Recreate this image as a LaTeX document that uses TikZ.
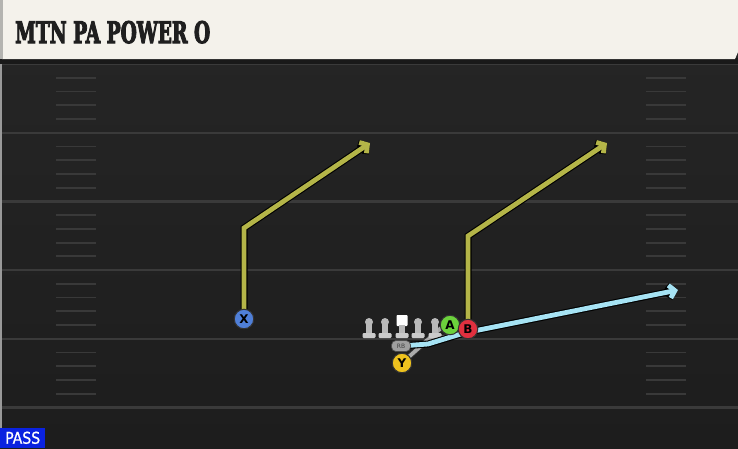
\documentclass[tikz,border=0pt]{standalone}
\usepackage{fontspec}
\setmainfont{DejaVu Serif}
\setsansfont{DejaVu Sans}
\newfontfamily\titlefont[FakeBold=4]{DejaVu Serif Condensed}
\newfontfamily\passfont[FakeBold=1]{DejaVu Sans Condensed}
\newfontfamily\letterfont{DejaVu Sans}
\usetikzlibrary{arrows.meta,calc}
\definecolor{fieldtop}{HTML}{262626}
\definecolor{fieldbot}{HTML}{1D1D1D}
\definecolor{yardline}{HTML}{3A3A3A}
\definecolor{hashline}{HTML}{393939}
\definecolor{header}{HTML}{F4F2EB}
\definecolor{headeredge}{HTML}{B4B4B0}
\definecolor{olive}{HTML}{B4B548}
\definecolor{skyblue}{HTML}{A6E3F4}
\definecolor{blockgray}{HTML}{ABABAB}
\definecolor{pblue}{HTML}{4F7FD8}
\definecolor{pgreen}{HTML}{6CD23C}
\definecolor{pred}{HTML}{E0303F}
\definecolor{pyellow}{HTML}{EEC21E}
\definecolor{lmgray}{HTML}{B9B9B9}
\definecolor{lmbase}{HTML}{CACACA}
\definecolor{passblue}{HTML}{0A22E0}
\tikzset{
  x=1pt, y=-1pt,
  yard/.style={draw=yardline, line width=2.2pt},
  hashmark/.style={draw=hashline, line width=1.8pt},
  routeout/.style={draw=black, line width=7pt, line join=miter, line cap=butt},
  routein/.style={line width=4.8pt, line join=miter, line cap=butt},
  tipout/.style={-{Straight Barb[length=5.5pt,width=13pt]}},
  player/.style={circle, draw=black!80, line width=1pt, minimum size=19.5pt, inner sep=0pt,
    font=\letterfont\bfseries\fontsize{12}{12}\selectfont, text=black},
  lineman/.style={minimum width=14pt, minimum height=24pt, inner sep=0pt,
    path picture={
      \begin{scope}[shift={(path picture bounding box.center)}]
        \fill[lmgray] (0,-6) circle (4pt);
        \fill[lmgray] (-3,-5) rectangle (3,6);
        \fill[lmbase, rounded corners=1.2pt] (-6.5,5) rectangle (6.5,10);
      \end{scope}}},
  center/.style={minimum width=14pt, minimum height=26pt, inner sep=0pt,
    path picture={
      \begin{scope}[shift={(path picture bounding box.center)}]
        \fill[white, rounded corners=0.8pt] (-5.5,-12) rectangle (5.5,-1);
        \fill[lmgray] (-3,-2) rectangle (3,7);
        \fill[lmbase, rounded corners=1.2pt] (-6.5,6) rectangle (6.5,11);
      \end{scope}}},
  rbpill/.style={draw=black!70, line width=0.7pt, fill=gray!75, rounded corners=4.5pt, minimum width=19pt,
    minimum height=11pt, inner sep=0pt, font=\sffamily\fontsize{6}{6}\selectfont, text=black!75},
}
\begin{document}
\begin{tikzpicture}
\useasboundingbox (0,0) rectangle (738,448);
% field
\shade[top color=fieldtop, bottom color=fieldbot] (0,0) rectangle (738,448);
\fill[black!40] (0,60) rectangle (2,448);
% yard lines
\foreach \i in {0,...,5} {
  \draw[yard] (2,{64+68.7*\i}) -- (738,{64+68.7*\i});
}
% hash marks
\foreach \i in {0,...,4} {
  \foreach \k in {1,...,4} {
    \draw[hashmark] (56,{64+68.7*\i+13.74*\k}) -- (96,{64+68.7*\i+13.74*\k});
    \draw[hashmark] (646,{64+68.7*\i+13.74*\k}) -- (686,{64+68.7*\i+13.74*\k});
  }
}
% header
\fill[black!90] (0,58) rectangle (738,64);
\fill[header] (2,0) -- (738,0) -- (738,52) -- (735,59) -- (2,59) -- cycle;
\fill[headeredge] (0,0) rectangle (2.5,59);
\node[anchor=base west, inner sep=0pt, text=black!88] (title) at (15,43)
  {\resizebox{195pt}{22pt}{\titlefont\bfseries MTN PA POWER O}};
% PASS label
\node[anchor=south west, fill=passblue, minimum width=45pt, minimum height=20pt, inner sep=0pt] (pass) at (0,448) {};
\node[inner sep=0pt, text=white] (passtext) at (pass.center)
  {\resizebox{35pt}{12pt}{\passfont PASS}};

% player positions
\coordinate (Xp) at (244,319);
\coordinate (Bp) at (468,329);
\coordinate (Ap) at (450,325);
\coordinate (Yp) at (402,363);
\coordinate (RBp) at (401,346);

% route coordinates
\coordinate (xc) at (244,228);
\coordinate (xe) at (370,143);
\coordinate (bc) at (468,236);
\coordinate (be) at (607,143);
\coordinate (r1) at (428,344);
\coordinate (r2) at (464,333);
\coordinate (re) at (678,290);
\coordinate (g1) at (441,328);
\coordinate (g2) at (425,341);
\coordinate (g3) at (461,334);

% blocking / gray lines
\draw[draw=black!80, line width=5.5pt] (Yp) -- (g1);
\draw[draw=black!80, line width=5.5pt] (g2) -- (g3);
\draw[draw=blockgray, line width=3.8pt] (Yp) -- (g1);
\draw[draw=blockgray, line width=3.8pt] (g2) -- (g3);

% linemen
\node[lineman] (LT) at (369,328) {};
\node[lineman] (LG) at (385,328) {};
\node[center] (C) at (402,327) {};
\node[lineman] (RG) at (418,328) {};
\node[lineman] (RT) at (435,328) {};

% X route
\draw[routeout, tipout] (Xp) -- (xc) -- (xe);
\draw[routein, draw=olive, tipout] (Xp) -- (xc) -- (xe);
% B route
\draw[routeout, tipout] (Bp) -- (bc) -- (be);
\draw[routein, draw=olive, tipout] (Bp) -- (bc) -- (be);
% RB route
\draw[routeout, tipout, line join=round] (RBp) -- (r1) -- (r2) -- (re);
\draw[routein, draw=skyblue, tipout, line join=round] (RBp) -- (r1) -- (r2) -- (re);

% player circles
\node[rbpill] (RB) at (RBp) {RB};
\node[player, fill=pblue] (X) at (Xp) {X};
\node[player, fill=pgreen] (A) at (Ap) {A};
\node[player, fill=pred] (B) at (Bp) {B};
\node[player, fill=pyellow] (Y) at (Yp) {Y};
\end{tikzpicture}
\end{document}
